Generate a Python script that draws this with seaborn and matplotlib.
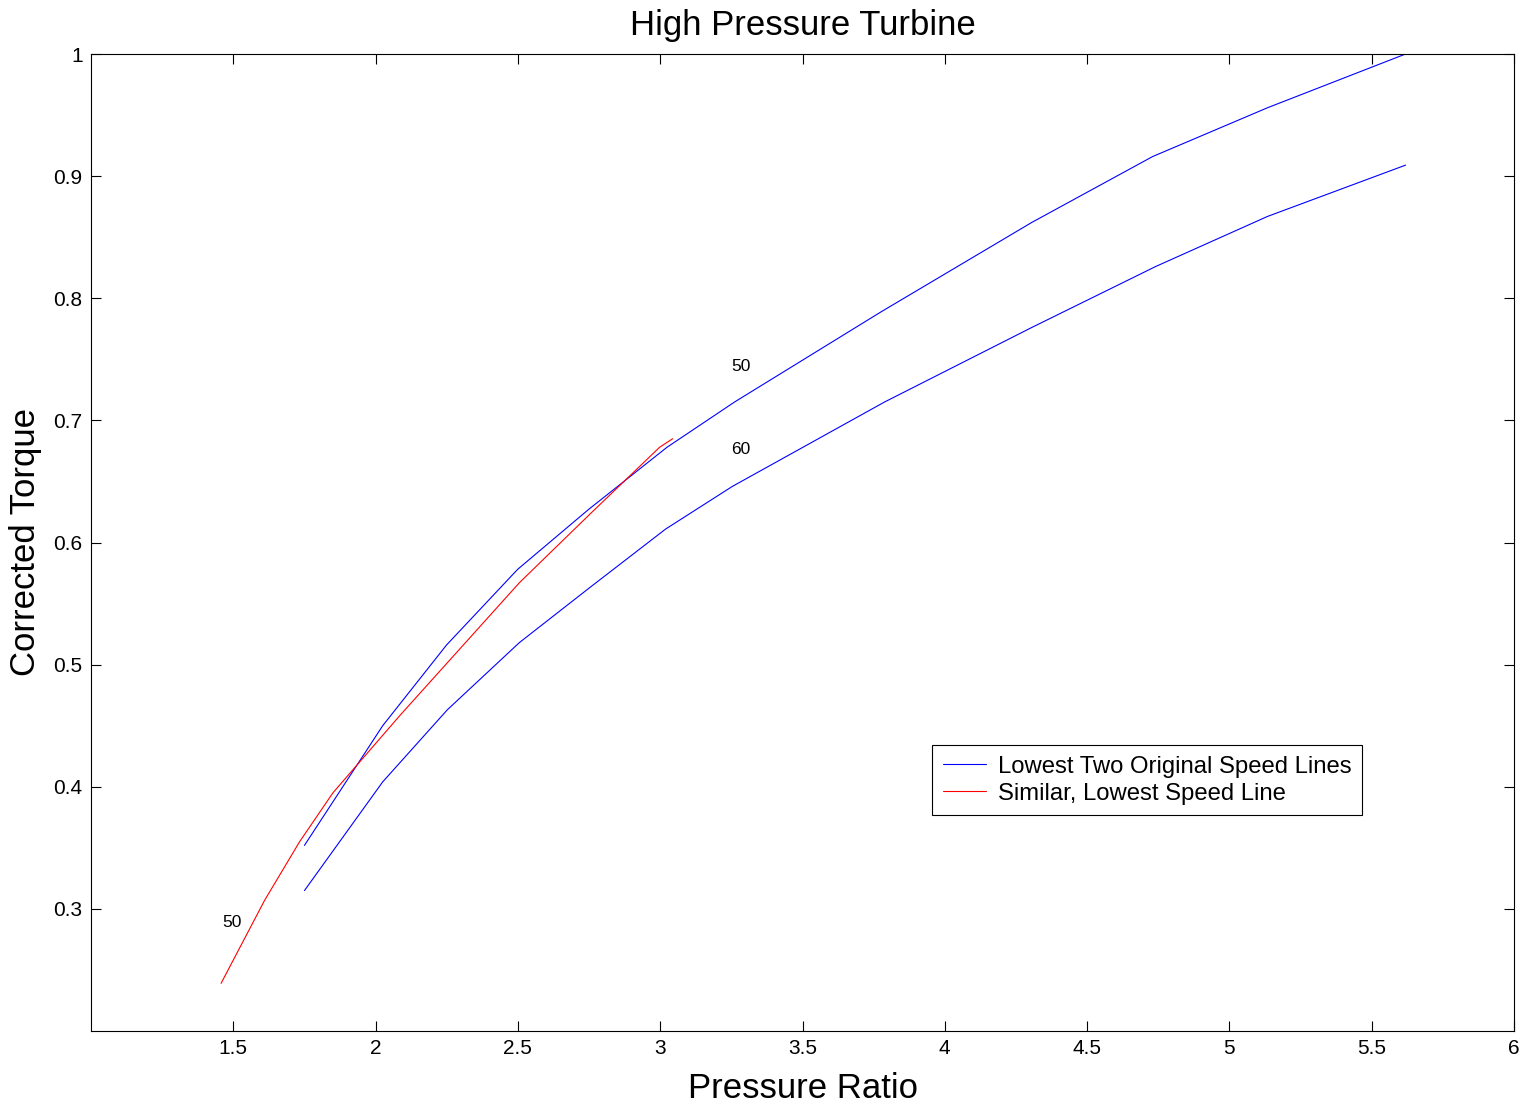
import numpy as np
import pandas as pd
import matplotlib
matplotlib.use("Agg")
import matplotlib.pyplot as plt
import seaborn as sns

# --- data ---
speed50_x = [1.750, 2.025, 2.249, 2.499, 2.748, 3.024, 3.261, 3.777, 4.305, 4.730, 5.134, 5.619]
speed50_y = [0.352, 0.450, 0.516, 0.578, 0.627, 0.678, 0.715, 0.789, 0.862, 0.916, 0.956, 1.000]

speed60_x = [1.750, 2.025, 2.252, 2.505, 2.752, 3.019, 3.254, 3.788, 4.305, 4.741, 5.134, 5.619]
speed60_y = [0.315, 0.404, 0.463, 0.518, 0.563, 0.611, 0.646, 0.715, 0.776, 0.826, 0.867, 0.909]

similar_x = [1.457, 1.610, 1.733, 1.850, 2.084, 2.505, 2.752, 2.998, 3.044]
similar_y = [0.239, 0.307, 0.355, 0.395, 0.458, 0.567, 0.623, 0.678, 0.685]

labels_text = ["50", "50", "60"]
labels_x = [1.494, 3.283, 3.283]
labels_y = [0.289, 0.744, 0.676]

x_ticks = [1.5, 2, 2.5, 3, 3.5, 4, 4.5, 5, 5.5, 6]
y_ticks = [0.3, 0.4, 0.5, 0.6, 0.7, 0.8, 0.9, 1.0]

legend_blue = "Lowest Two Original Speed Lines"
legend_red = "Similar, Lowest Speed Line"

df50 = pd.DataFrame({"x": speed50_x, "y": speed50_y})
df60 = pd.DataFrame({"x": speed60_x, "y": speed60_y})
dfs = pd.DataFrame({"x": similar_x, "y": similar_y})

sns.set_style("ticks")
plt.rcParams["font.family"] = ["Liberation Sans", "DejaVu Sans"]
plt.rcParams["xtick.direction"] = "in"
plt.rcParams["ytick.direction"] = "in"
plt.rcParams["text.color"] = "black"
plt.rcParams["axes.labelcolor"] = "black"
plt.rcParams["xtick.color"] = "black"
plt.rcParams["ytick.color"] = "black"

fig = plt.figure(figsize=(15.33, 11.10), dpi=100)
ax = fig.add_axes([91 / 1533, 1 - 1031 / 1110, (1514 - 91) / 1533, (1031 - 54) / 1110])

sns.lineplot(data=df50, x="x", y="y", sort=False, estimator=None, color="#0000ff",
             linewidth=0.8, ax=ax, label=legend_blue)
sns.lineplot(data=df60, x="x", y="y", sort=False, estimator=None, color="#0000ff",
             linewidth=0.8, ax=ax, label="_nolegend_")
sns.lineplot(data=dfs, x="x", y="y", sort=False, estimator=None, color="#ff0000",
             linewidth=0.8, ax=ax, label=legend_red)

for t, x, y in zip(labels_text, labels_x, labels_y):
    ax.text(x, y, t, fontsize=12.5, ha="center", va="center", color="black")

ax.set_xlim(1, 6)
ax.set_ylim(0.2, 1.0)
ax.set_xticks(x_ticks)
ax.set_xticklabels([f"{v:g}" for v in x_ticks])
ax.set_yticks(y_ticks)
ax.set_yticklabels([f"{v:g}" for v in y_ticks])
ax.tick_params(axis="both", which="both", direction="in", length=7, width=0.8,
               top=True, right=True, labelsize=15, colors="black", pad=6)

for s in ax.spines.values():
    s.set_visible(True)
    s.set_color("black")
    s.set_linewidth(0.8)

ax.set_title("High Pressure Turbine", fontsize=25, pad=14, color="black")
ax.set_xlabel("Pressure Ratio", fontsize=25, labelpad=10, color="black")
ax.set_ylabel("Corrected Torque", fontsize=25, labelpad=8, color="black")

leg = ax.legend(loc="upper left", bbox_to_anchor=((932 - 91) / 1423, (1031 - 745) / 977),
                fontsize=17.2, frameon=True, fancybox=False, shadow=False,
                handlelength=1.8, handletextpad=0.5, borderpad=0.45,
                labelspacing=0.2, borderaxespad=0)
leg.get_frame().set_edgecolor("black")
leg.get_frame().set_linewidth(0.8)
leg.get_frame().set_alpha(1)
for txt in leg.get_texts():
    txt.set_color("black")

fig.savefig("out.png", dpi=100, facecolor="white")
